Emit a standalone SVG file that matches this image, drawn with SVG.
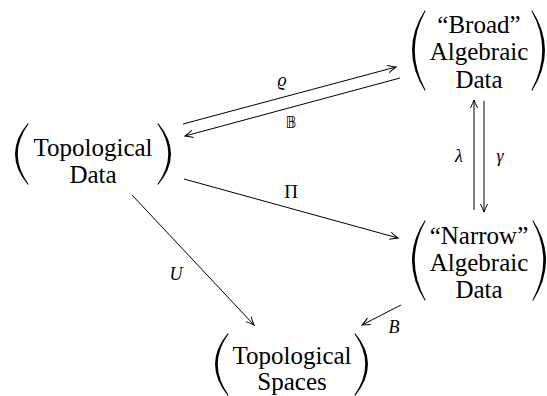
<svg xmlns="http://www.w3.org/2000/svg" width="547" height="396" viewBox="0 0 547 396">
<defs>
<marker id="arr" viewBox="-9 -5 10 10" markerWidth="10" markerHeight="10" refX="0" refY="0" orient="auto" markerUnits="userSpaceOnUse">
<path d="M-8,-3.6 Q-3,-1 0,0 Q-3,1 -8,3.6" fill="none" stroke="#000" stroke-width="1"/>
</marker>
</defs>
<rect width="547" height="396" fill="#fff"/>
<g id="topological-data">
<path fill="#000" d="M28,123 Q2,154 28,185 L28.5,184 Q7,154 28.5,124 Z"/>
<path fill="#000" d="M158,123 Q184,154 158,185 L157.5,184 Q179,154 157.5,124 Z"/>
<text x="93" y="156" font-family="Liberation Serif" font-size="25" text-anchor="middle">Topological</text>
<text x="93" y="183" font-family="Liberation Serif" font-size="25" text-anchor="middle">Data</text>
</g>
<g id="broad-algebraic-data">
<path fill="#000" d="M425,10 Q399,50 425,91 L425.5,90 Q404,50 425.5,11 Z"/>
<path fill="#000" d="M532,10 Q558,50 532,91 L531.5,90 Q553,50 531.5,11 Z"/>
<text x="479" y="33" font-family="Liberation Serif" font-size="25" text-anchor="middle">&#x201C;Broad&#x201D;</text>
<text x="479" y="60" font-family="Liberation Serif" font-size="25" text-anchor="middle">Algebraic</text>
<text x="479" y="88" font-family="Liberation Serif" font-size="25" text-anchor="middle">Data</text>
</g>
<g id="narrow-algebraic-data">
<path fill="#000" d="M425,220 Q399,260 425,301 L425.5,300 Q404,260 425.5,221 Z"/>
<path fill="#000" d="M533,220 Q559,260 533,301 L532.5,300 Q554,260 532.5,221 Z"/>
<text x="479" y="244" font-family="Liberation Serif" font-size="25" text-anchor="middle">&#x201C;Narrow&#x201D;</text>
<text x="479" y="271" font-family="Liberation Serif" font-size="25" text-anchor="middle">Algebraic</text>
<text x="479" y="298" font-family="Liberation Serif" font-size="25" text-anchor="middle">Data</text>
</g>
<g id="topological-spaces">
<path fill="#000" d="M228,333 Q202,364 228,396 L228.5,395 Q207,364 228.5,334 Z"/>
<path fill="#000" d="M355,333 Q381,364 355,396 L354.5,395 Q376,364 354.5,334 Z"/>
<text x="292" y="364" font-family="Liberation Serif" font-size="25" text-anchor="middle">Topological</text>
<text x="292" y="390" font-family="Liberation Serif" font-size="25" text-anchor="middle">Spaces</text>
</g>
<g id="connectors" fill="none" stroke="#000" stroke-width="1">
<line x1="183" y1="124" x2="396" y2="67" marker-end="url(#arr)"/>
<line x1="400" y1="78" x2="185" y2="136" marker-end="url(#arr)"/>
<line x1="184" y1="179" x2="398" y2="238" marker-end="url(#arr)"/>
<line x1="132" y1="195" x2="254" y2="325" marker-end="url(#arr)"/>
<line x1="401" y1="305" x2="362" y2="325" marker-end="url(#arr)"/>
<line x1="474" y1="210" x2="474" y2="100" marker-end="url(#arr)"/>
<line x1="484" y1="101" x2="484" y2="212" marker-end="url(#arr)"/>
</g>
<g id="labels" fill="#000">
<text x="282" y="86" font-family="Liberation Serif" font-size="18" font-style="italic" text-anchor="middle">&#x3F1;</text>
<text x="176" y="280" font-family="Liberation Serif" font-size="18" font-style="italic" text-anchor="middle">U</text>
<text x="394" y="333" font-family="Liberation Serif" font-size="18" font-style="italic" text-anchor="middle">B</text>
<text x="459" y="162" font-family="Liberation Serif" font-size="18" font-style="italic" text-anchor="middle">&#x3BB;</text>
<text x="500" y="162" font-family="Liberation Serif" font-size="18" font-style="italic" text-anchor="middle">&#x3B3;</text>
<text x="291" y="198" font-family="Liberation Serif" font-size="19" text-anchor="middle">&#x3A0;</text>
<text x="291" y="128" font-family="DejaVu Sans" font-size="15" text-anchor="middle">&#x1D539;</text>
</g>
</svg>
